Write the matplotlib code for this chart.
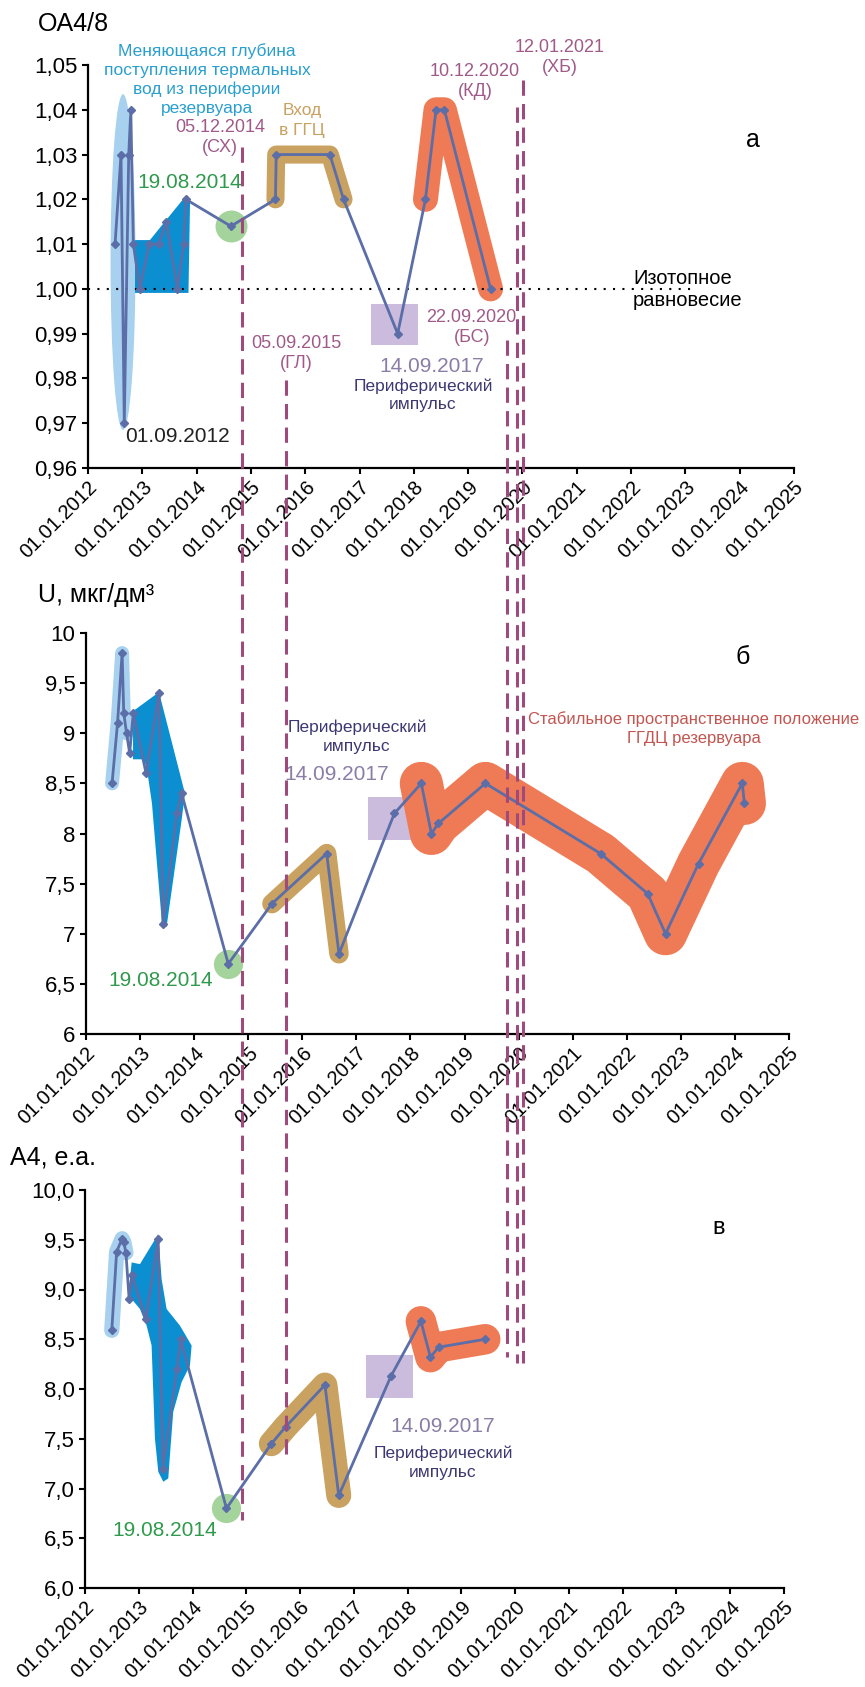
import matplotlib
matplotlib.use("Agg")
import matplotlib.pyplot as plt
import matplotlib.dates as mdates
from matplotlib.patches import Ellipse, Rectangle, Polygon
from matplotlib.lines import Line2D
from matplotlib.transforms import blended_transform_factory
import pandas as pd
from datetime import datetime

plt.rcParams['font.family'] = ['Liberation Sans', 'DejaVu Sans']

W, H = 865, 1687

# ---- data ----
years = list(range(2012, 2026))

oa_dates = ['2012-07-01', '2012-08-10', '2012-09-01', '2012-10-01', '2012-10-15', '2012-11-01',
            '2012-12-15', '2013-02-15', '2013-04-20', '2013-06-10', '2013-08-25', '2013-10-05',
            '2013-10-20', '2014-08-19', '2015-06-15', '2015-06-20', '2016-06-15', '2016-09-15',
            '2017-09-14', '2018-03-20', '2018-05-30', '2018-07-25', '2019-06-01']
oa_vals = [1.01, 1.03, 0.97, 1.03, 1.04, 1.01, 1.00, 1.01, 1.01, 1.015, 1.00, 1.01,
           1.02, 1.014, 1.02, 1.03, 1.03, 1.02, 0.99, 1.02, 1.04, 1.04, 1.00]

u_dates = ['2012-06-25', '2012-08-01', '2012-09-01', '2012-09-12', '2012-10-01', '2012-10-22',
           '2012-11-15', '2013-02-10', '2013-05-08', '2013-06-05', '2013-09-05', '2013-10-08',
           '2014-08-19', '2015-06-10', '2016-06-14', '2016-09-05', '2017-09-14', '2018-03-15',
           '2018-05-22', '2018-07-08', '2019-05-22', '2021-07-08', '2022-05-22', '2022-09-20',
           '2023-05-01', '2024-02-20', '2024-03-06']
u_vals = [8.5, 9.1, 9.8, 9.2, 9.0, 8.8, 9.2, 8.6, 9.4, 7.1, 8.2, 8.4, 6.7, 7.3, 7.8, 6.8,
          8.2, 8.5, 8.0, 8.1, 8.5, 7.8, 7.4, 7.0, 7.7, 8.5, 8.3]

a4_dates = ['2012-07-01', '2012-08-03', '2012-09-09', '2012-09-20', '2012-10-05', '2012-10-27',
            '2012-11-15', '2013-02-17', '2013-05-12', '2013-06-13', '2013-09-16', '2013-10-12',
            '2014-08-19', '2015-06-20', '2015-09-25', '2016-06-18', '2016-09-20', '2017-09-10',
            '2018-04-01', '2018-06-05', '2018-07-30', '2019-06-12']
a4_vals = [8.59, 9.38, 9.51, 9.48, 9.37, 8.90, 9.15, 8.70, 9.51, 7.20, 8.20, 8.50, 6.80,
           7.45, 7.62, 8.04, 6.93, 8.13, 8.68, 8.32, 8.42, 8.50]

# event lines (as drawn on the chart, decimal years)
event_pos = [2014.84, 2015.65, 2019.72, 2019.90, 2020.01]
event_span = [(147, 1520), (380, 1460), (340, 1357), (107, 1363), (80, 1363)]

# highlight shapes (decimal years, values)
oa_dark = [(2012.866, 1.0109), (2013.14, 1.0109), (2013.79, 1.0206), (2013.88, 1.0199),
           (2013.85, 0.9991), (2012.866, 0.9991)]
u_dark = [(2012.87, 9.22), (2013.35, 9.41), (2013.83, 8.40), (2013.77, 8.14), (2013.49, 7.07),
          (2013.41, 7.07), (2013.22, 8.30), (2013.12, 8.67), (2013.05, 8.74), (2012.87, 8.74)]
a4_dark = [(2012.868, 9.272), (2013.022, 9.255), (2013.363, 9.556), (2013.425, 9.105),
           (2013.518, 8.804), (2013.766, 8.637), (2013.983, 8.437), (2013.952, 8.236),
           (2013.797, 8.069), (2013.641, 7.769), (2013.580, 7.335), (2013.549, 7.101),
           (2013.456, 7.068), (2013.363, 7.168), (2013.301, 7.502), (2013.239, 8.437),
           (2013.146, 8.637), (2013.022, 8.804), (2012.868, 8.904), (2012.805, 8.938)]

LINE = '#5b6ea8'
LIGHTBLUE = '#a7d1ee'
DARKBLUE = '#0b8fd0'
GREEN = '#a4d49c'
TAN = '#c9a160'
LAV = '#cbbcde'
CORAL = '#ef7b56'
EVENT = '#9e4a7c'
EVENT_TXT = '#a05a88'
TEAL_TXT = '#2a9fcf'
GREEN_TXT = '#2f9a4c'
PURP_TXT = '#8a7da6'
NAVY_TXT = '#3d3772'
RED_TXT = '#c25550'

T0 = mdates.date2num(datetime(2012, 1, 1))


def yr(v):
    return T0 + (v - 2012) * 365.25


fig = plt.figure(figsize=(W / 100, H / 100), dpi=100)


def make_axes(l, r, t, b, ylim, step, fmt):
    ax = fig.add_axes([l / W, 1 - b / H, (r - l) / W, (b - t) / H])
    ax.set_xlim(mdates.date2num(datetime(2012, 1, 1)), mdates.date2num(datetime(2025, 1, 1)))
    ax.set_ylim(*ylim)
    n = int(round((ylim[1] - ylim[0]) / step))
    ticks = [ylim[0] + i * step for i in range(n + 1)]
    ax.set_yticks(ticks)
    ax.set_yticklabels([fmt(v) for v in ticks], fontsize=16)
    ax.set_xticks([mdates.date2num(datetime(y, 1, 1)) for y in years])
    ax.set_xticklabels([f'01.01.{y}' for y in years], rotation=45, ha='right',
                       rotation_mode='anchor', fontsize=14.5)
    for s in ['top', 'right']:
        ax.spines[s].set_visible(False)
    for s in ['left', 'bottom']:
        ax.spines[s].set_linewidth(1.6)
    ax.tick_params(axis='y', length=4.5, width=1.5, pad=3)
    ax.tick_params(axis='x', length=4, width=1.5, pad=3)
    ax.patch.set_alpha(0)
    return ax


def stroke(ax, d, v, idx, color, lw):
    ax.plot([d[i] for i in idx], [v[i] for i in idx], color=color, lw=lw,
            solid_capstyle='round', solid_joinstyle='round', zorder=1)


def poly(ax, pts, color):
    ax.add_patch(Polygon([(yr(x), y) for x, y in pts], closed=True, color=color, lw=0, zorder=1.5))


def rect(ax, x0, x1, y0, y1):
    ax.add_patch(Rectangle((yr(x0), y0), yr(x1) - yr(x0), y1 - y0, color=LAV, lw=0, zorder=1))


def series(ax, d, v):
    ax.plot(d, v, color=LINE, lw=2, marker='D', ms=4, zorder=4)


def label(x, y, s, color='black', size=12, ha='center'):
    fig.text(x / W, 1 - y / H, s, color=color, fontsize=size, ha=ha, va='center')


oa_d = pd.to_datetime(oa_dates)
u_d = pd.to_datetime(u_dates)
a4_d = pd.to_datetime(a4_dates)

# ---- panel a ----
ax1 = make_axes(88, 794, 65, 468, (0.96, 1.05), 0.01, lambda v: f'{v:.2f}'.replace('.', ','))
ax1.add_patch(Ellipse((yr(2012.645), 1.006), 0.46 * 365.25, 0.075, color=LIGHTBLUE, lw=0, zorder=1))
poly(ax1, oa_dark, DARKBLUE)
ax1.plot(oa_d[13], oa_vals[13], 'o', ms=23, color=GREEN, mec='none', zorder=1)
stroke(ax1, oa_d, oa_vals, [14, 15, 16, 17], TAN, 13)
rect(ax1, 2017.21, 2018.08, 0.9874, 0.9967)
stroke(ax1, oa_d, oa_vals, [19, 20, 21, 22], CORAL, 18)
ax1.axhline(1.0, xmax=0.857, color='black', lw=1.5, ls=(0, (1, 3.5)), zorder=2)
series(ax1, oa_d, oa_vals)

# ---- panel б ----
ax2 = make_axes(86, 789, 633, 1034, (6, 10), 0.5, lambda v: f'{v:g}'.replace('.', ','))
stroke(ax2, u_d, u_vals, [0, 1, 2, 3, 4], LIGHTBLUE, 10)
poly(ax2, u_dark, DARKBLUE)
ax2.plot(u_d[12], u_vals[12], 'o', ms=21, color=GREEN, mec='none', zorder=1)
stroke(ax2, u_d, u_vals, [13, 14, 15], TAN, 14)
rect(ax2, 2017.21, 2018.08, 7.94, 8.36)
stroke(ax2, u_d, u_vals, list(range(17, 27)), CORAL, 31)
series(ax2, u_d, u_vals)

# ---- panel в ----
ax3 = make_axes(85, 784, 1190, 1588, (6, 10), 0.5, lambda v: f'{v:.1f}'.replace('.', ','))
stroke(ax3, a4_d, a4_vals, [0, 1, 2, 3, 4], LIGHTBLUE, 11)
poly(ax3, a4_dark, DARKBLUE)
ax3.plot(a4_d[12], a4_vals[12], 'o', ms=21, color=GREEN, mec='none', zorder=1)
stroke(ax3, a4_d, a4_vals, [13, 14, 15, 16], TAN, 18)
rect(ax3, 2017.22, 2018.10, 7.91, 8.34)
stroke(ax3, a4_d, a4_vals, [18, 19, 20, 21], CORAL, 22)
series(ax3, a4_d, a4_vals)

# ---- event lines through all panels ----
tr = blended_transform_factory(ax1.transData, fig.transFigure)
for x, (y0, y1) in zip(event_pos, event_span):
    fig.add_artist(Line2D([yr(x), yr(x)], [1 - y0 / H, 1 - y1 / H], transform=tr,
                          color=EVENT, lw=2.2, ls=(0, (5, 2.7)), zorder=5))

# ---- texts ----
label(38, 24, 'OA4/8', size=18, ha='left')
for i, s in enumerate(['Меняющаяся глубина', 'поступления термальных', 'вод из периферии', 'резервуара']):
    label(207, 51 + 19 * i, s, TEAL_TXT, 12.5)
label(220, 127, '05.12.2014', EVENT_TXT, 13)
label(220, 147, '(СХ)', EVENT_TXT, 13)
label(302, 110, 'Вход', TAN, 12.5)
label(302, 130, 'в ГГЦ', TAN, 12.5)
label(190, 183, '19.08.2014', GREEN_TXT, 15)
label(177, 437, '01.09.2012', '#222222', 15)
label(296, 343, '05.09.2015', EVENT_TXT, 13)
label(296, 364, '(ГЛ)', EVENT_TXT, 13)
label(432, 366, '14.09.2017', PURP_TXT, 15)
label(423, 386, 'Периферический', NAVY_TXT, 12.5)
label(423, 405, 'импульс', NAVY_TXT, 12.5)
label(471, 317, '22.09.2020', EVENT_TXT, 13)
label(472, 337, '(БС)', EVENT_TXT, 13)
label(475, 71, '10.12.2020', EVENT_TXT, 13)
label(475, 91, '(КД)', EVENT_TXT, 13)
label(560, 48, '12.01.2021', EVENT_TXT, 13)
label(560, 68, '(ХБ)', EVENT_TXT, 13)
label(753, 140, 'а', size=18)
label(633, 278, 'Изотопное', size=14.5, ha='left')
label(633, 301, 'равновесие', size=14.5, ha='left')

label(38, 595, 'U, мкг/дм³', size=18, ha='left')
label(743, 657, 'б', size=18)
label(357, 727, 'Периферический', NAVY_TXT, 12.5)
label(357, 746, 'импульс', NAVY_TXT, 12.5)
label(337, 775, '14.09.2017', PURP_TXT, 15)
label(161, 980, '19.08.2014', GREEN_TXT, 15)
label(694, 719, 'Стабильное пространственное положение', RED_TXT, 12)
label(694, 739, 'ГГДЦ резервуара', RED_TXT, 12)

label(10, 1157, 'A4, е.а.', size=18, ha='left')
label(719, 1228, 'в', size=17)
label(165, 1530, '19.08.2014', GREEN_TXT, 15)
label(443, 1427, '14.09.2017', PURP_TXT, 15)
label(443, 1453, 'Периферический', NAVY_TXT, 12.5)
label(443, 1473, 'импульс', NAVY_TXT, 12.5)

fig.savefig('out.png', dpi=100)
